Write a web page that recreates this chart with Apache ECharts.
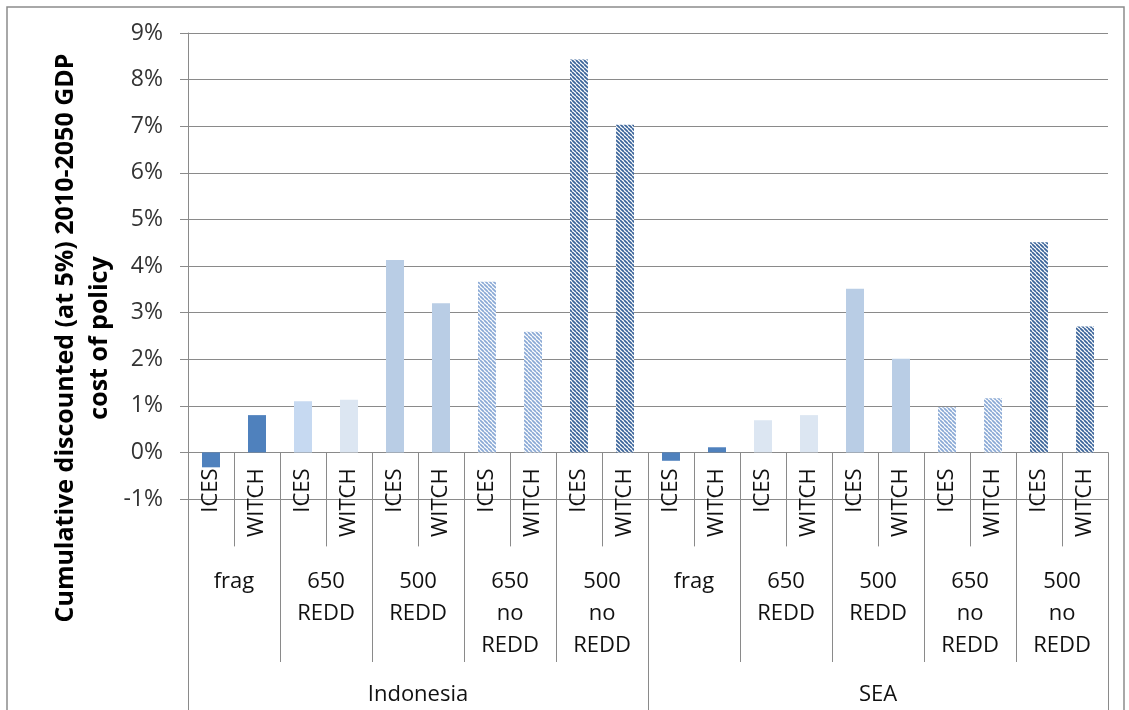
<!DOCTYPE html>
<html>
<head>
<meta charset="utf-8">
<script src="https://cdn.jsdelivr.net/npm/echarts@6/dist/echarts.min.js"></script>
<style>
  html, body { margin: 0; padding: 0; background: #ffffff; }
  #chart { width: 1129px; height: 710px; }
</style>
</head>
<body>
<div id="chart"></div>
<script>
// Three-level category axis: region > scenario > model
const regions = ['Indonesia', 'SEA'];
const scenarios = ['frag', '650\nREDD', '500\nREDD', '650\nno\nREDD', '500\nno\nREDD'];
const models = ['ICES', 'WITCH'];

// Cumulative discounted GDP cost (%), per scenario: ICES, WITCH
const indonesiaCost = [-0.32, 0.80, 1.10, 1.13, 4.13, 3.20, 3.66, 2.59, 8.43, 7.03];
const seaCost = [-0.18, 0.11, 0.69, 0.80, 3.51, 2.01, 0.97, 1.16, 4.51, 2.70];

// Value axis ticks (percent)
const yMin = -1;
const yMax = 9;
const yStep = 1;

const yTitle = 'Cumulative discounted (at 5%) 2010-2050 GDP\ncost of policy';

const FONT = '"Open Sans", "Liberation Sans", sans-serif';
const AXIS_GRAY = '#8a8a8a';

// Plot area
const GRID = { left: 188, right: 21, top: 33, bottom: 211 };
const gridHeight = 710 - GRID.top - GRID.bottom;
// distance from the bottom of the plot up to the 0% line
const zeroLift = gridHeight * (0 - yMin) / (yMax - yMin);

// Diagonal hatch fill built on a small canvas tile
function hatch(color) {
  const size = 4;
  const c = document.createElement('canvas');
  c.width = size; c.height = size;
  const ctx = c.getContext('2d');
  ctx.fillStyle = '#ffffff';
  ctx.fillRect(0, 0, size, size);
  ctx.strokeStyle = color;
  ctx.lineWidth = 1.7;
  for (let o = -size; o <= size; o += size) {
    ctx.beginPath();
    ctx.moveTo(o, 0);
    ctx.lineTo(o + size, size);
    ctx.stroke();
  }
  return { image: c, repeat: 'repeat' };
}

const hatchLight = hatch('#8aa9d5');
const hatchDark = hatch('#3a6399');

// Fill per region / scenario / model
function barFill(regionIdx, scenarioIdx, modelIdx) {
  switch (scenarioIdx) {
    case 0: return '#4f81bd';
    case 1: return (regionIdx === 0 && modelIdx === 0) ? '#c6d9f1' : '#dce6f2';
    case 2: return '#b9cde5';
    case 3: return hatchLight;
    default: return hatchDark;
  }
}

const modelKeys = [];
const scenarioKeys = [];
const barData = [];
regions.forEach((r, ri) => {
  const values = ri === 0 ? indonesiaCost : seaCost;
  scenarios.forEach((s, si) => {
    scenarioKeys.push(r + '|' + s);
    models.forEach((m, mi) => {
      modelKeys.push(r + '|' + s + '|' + m);
      barData.push({
        value: values[si * models.length + mi],
        itemStyle: { color: barFill(ri, si, mi) }
      });
    });
  });
});

const lastPart = v => v.split('|').pop();

const chart = echarts.init(document.getElementById('chart'), null, { renderer: 'canvas' });

chart.setOption({
  animation: false,
  backgroundColor: '#ffffff',
  textStyle: { fontFamily: FONT },
  grid: Object.assign({ containLabel: false, outerBoundsMode: 'none' }, GRID),
  yAxis: {
    type: 'value',
    min: yMin,
    max: yMax,
    interval: yStep,
    axisLine: { show: true, lineStyle: { color: AXIS_GRAY, width: 1 } },
    axisTick: { show: true, length: 8, lineStyle: { color: AXIS_GRAY } },
    splitLine: { show: true, lineStyle: { color: AXIS_GRAY, width: 1 } },
    axisLabel: {
      formatter: v => v + '%',
      fontSize: 23,
      color: '#333333',
      fontFamily: FONT,
      margin: 25
    }
  },
  xAxis: [
    {
      // model level, lifted onto the 0% line
      type: 'category',
      data: modelKeys,
      position: 'bottom',
      offset: -zeroLift,
      boundaryGap: true,
      axisLine: { show: true, onZero: false, lineStyle: { color: AXIS_GRAY } },
      axisTick: { show: true, interval: 0, length: 94, lineStyle: { color: AXIS_GRAY } },
      axisLabel: {
        interval: 0,
        rotate: 90,
        margin: 16,
        fontSize: 22,
        color: '#111111',
        fontFamily: FONT,
        formatter: lastPart
      }
    },
    {
      // scenario level, from the bottom of the grid
      type: 'category',
      data: scenarioKeys,
      position: 'bottom',
      boundaryGap: true,
      axisLine: { show: false, onZero: false },
      axisTick: { show: true, interval: 0, length: 163, lineStyle: { color: AXIS_GRAY } },
      axisLabel: {
        interval: 0,
        margin: 67,
        fontSize: 22,
        lineHeight: 32,
        color: '#111111',
        fontFamily: FONT,
        verticalAlign: 'top',
        formatter: lastPart
      }
    },
    {
      // region level
      type: 'category',
      data: regions,
      position: 'bottom',
      boundaryGap: true,
      axisLine: { show: false, onZero: false },
      axisTick: { show: true, interval: 0, length: 230, lineStyle: { color: AXIS_GRAY } },
      axisLabel: {
        interval: 0,
        margin: 180,
        fontSize: 22,
        lineHeight: 32,
        color: '#111111',
        fontFamily: FONT,
        verticalAlign: 'top'
      }
    }
  ],
  series: [
    {
      type: 'bar',
      xAxisIndex: 0,
      yAxisIndex: 0,
      barWidth: 18,
      data: barData
    }
  ],
  graphic: [
    {
      type: 'rect',
      silent: true,
      shape: { x: 7, y: 7, width: 1117, height: 720 },
      style: { fill: 'none', stroke: '#8c8c8c', lineWidth: 1.5 }
    },
    {
      type: 'text',
      silent: true,
      x: 83,
      y: 338,
      rotation: Math.PI / 2,
      style: {
        text: yTitle,
        fontSize: 25,
        fontWeight: 'bold',
        fontFamily: FONT,
        fill: '#000000',
        align: 'center',
        verticalAlign: 'middle',
        lineHeight: 34
      }
    }
  ]
});
</script>
</body>
</html>
